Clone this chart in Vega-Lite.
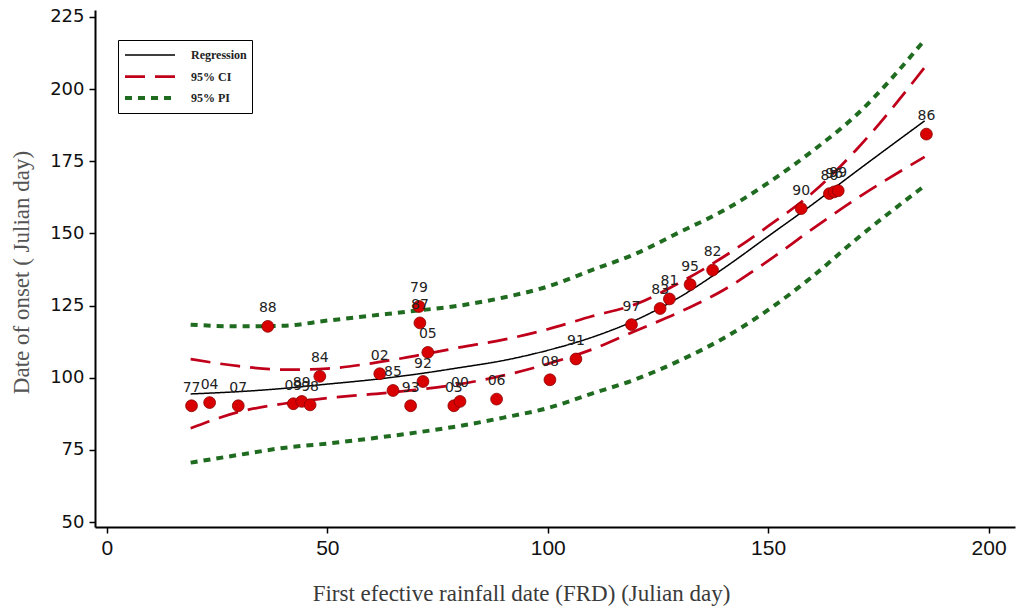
{
  "$schema": "https://vega.github.io/schema/vega-lite/v6.json",
  "width": 920,
  "height": 517,
  "autosize": "none",
  "padding": {"left": 95, "top": 10, "right": 9, "bottom": 81},
  "background": "white",
  "config": {
    "view": {"stroke": null},
    "axis": {"grid": false, "domainColor": "#000", "domainWidth": 2, "tickColor": "#000", "tickWidth": 1.5, "tickSize": 6, "labelColor": "#111", "titleColor": "#3a3a3a", "titleFont": "Liberation Serif", "titleFontWeight": "normal", "titleFontSize": 23}
  },
  "datasets": {
    "pts": [
      {"x": 19.2, "y": 90.3, "yr": "77"},
      {"x": 23.3, "y": 91.4, "yr": "04"},
      {"x": 29.8, "y": 90.3, "yr": "07"},
      {"x": 36.5, "y": 117.8, "yr": "88"},
      {"x": 42.3, "y": 91.0, "yr": "09"},
      {"x": 44.2, "y": 91.8, "yr": "89"},
      {"x": 46.1, "y": 90.6, "yr": "98"},
      {"x": 48.3, "y": 100.5, "yr": "84"},
      {"x": 61.9, "y": 101.4, "yr": "02"},
      {"x": 64.9, "y": 95.6, "yr": "85"},
      {"x": 68.9, "y": 90.3, "yr": "93"},
      {"x": 70.8, "y": 124.7, "yr": "79"},
      {"x": 71.0, "y": 119.0, "yr": "87"},
      {"x": 71.7, "y": 98.7, "yr": "92"},
      {"x": 72.8, "y": 108.8, "yr": "05"},
      {"x": 78.7, "y": 90.3, "yr": "03"},
      {"x": 80.1, "y": 91.8, "yr": "00"},
      {"x": 88.4, "y": 92.6, "yr": "06"},
      {"x": 100.5, "y": 99.3, "yr": "08"},
      {"x": 106.4, "y": 106.5, "yr": "91"},
      {"x": 119.0, "y": 118.4, "yr": "97"},
      {"x": 125.5, "y": 124.0, "yr": "83"},
      {"x": 127.6, "y": 127.3, "yr": "81"},
      {"x": 132.3, "y": 132.3, "yr": "95"},
      {"x": 137.4, "y": 137.3, "yr": "82"},
      {"x": 157.5, "y": 158.6, "yr": "90"},
      {"x": 163.9, "y": 163.8, "yr": "80"},
      {"x": 165.0, "y": 164.4, "yr": "96"},
      {"x": 165.9, "y": 164.8, "yr": "99"},
      {"x": 185.9, "y": 184.4, "yr": "86"}
    ],
    "lines": [
      {"x": 19, "y": 94.4, "series": "Regression", "part": "r"},
      {"x": 30, "y": 95.2, "series": "Regression", "part": "r"},
      {"x": 40, "y": 96.3, "series": "Regression", "part": "r"},
      {"x": 50, "y": 97.8, "series": "Regression", "part": "r"},
      {"x": 60, "y": 99.3, "series": "Regression", "part": "r"},
      {"x": 70, "y": 101.2, "series": "Regression", "part": "r"},
      {"x": 80, "y": 103.5, "series": "Regression", "part": "r"},
      {"x": 90, "y": 106.0, "series": "Regression", "part": "r"},
      {"x": 100, "y": 109.5, "series": "Regression", "part": "r"},
      {"x": 110, "y": 114.0, "series": "Regression", "part": "r"},
      {"x": 120, "y": 120.0, "series": "Regression", "part": "r"},
      {"x": 130, "y": 128.0, "series": "Regression", "part": "r"},
      {"x": 140, "y": 138.0, "series": "Regression", "part": "r"},
      {"x": 150, "y": 149.0, "series": "Regression", "part": "r"},
      {"x": 160, "y": 160.0, "series": "Regression", "part": "r"},
      {"x": 170, "y": 171.5, "series": "Regression", "part": "r"},
      {"x": 185.5, "y": 189.0, "series": "Regression", "part": "r"},

      {"x": 19, "y": 106.5, "series": "95% CI", "part": "cu"},
      {"x": 30, "y": 104.0, "series": "95% CI", "part": "cu"},
      {"x": 40, "y": 102.8, "series": "95% CI", "part": "cu"},
      {"x": 50, "y": 103.2, "series": "95% CI", "part": "cu"},
      {"x": 60, "y": 105.0, "series": "95% CI", "part": "cu"},
      {"x": 70, "y": 107.6, "series": "95% CI", "part": "cu"},
      {"x": 80, "y": 110.5, "series": "95% CI", "part": "cu"},
      {"x": 90, "y": 113.2, "series": "95% CI", "part": "cu"},
      {"x": 100, "y": 116.8, "series": "95% CI", "part": "cu"},
      {"x": 110, "y": 121.3, "series": "95% CI", "part": "cu"},
      {"x": 120, "y": 125.5, "series": "95% CI", "part": "cu"},
      {"x": 130, "y": 133.0, "series": "95% CI", "part": "cu"},
      {"x": 140, "y": 142.0, "series": "95% CI", "part": "cu"},
      {"x": 150, "y": 152.5, "series": "95% CI", "part": "cu"},
      {"x": 160, "y": 164.0, "series": "95% CI", "part": "cu"},
      {"x": 170, "y": 179.0, "series": "95% CI", "part": "cu"},
      {"x": 185.5, "y": 207.5, "series": "95% CI", "part": "cu"},

      {"x": 19, "y": 82.5, "series": "95% CI", "part": "cl"},
      {"x": 30, "y": 88.2, "series": "95% CI", "part": "cl"},
      {"x": 40, "y": 91.0, "series": "95% CI", "part": "cl"},
      {"x": 50, "y": 93.0, "series": "95% CI", "part": "cl"},
      {"x": 60, "y": 94.3, "series": "95% CI", "part": "cl"},
      {"x": 70, "y": 95.8, "series": "95% CI", "part": "cl"},
      {"x": 80, "y": 97.8, "series": "95% CI", "part": "cl"},
      {"x": 90, "y": 100.8, "series": "95% CI", "part": "cl"},
      {"x": 100, "y": 104.8, "series": "95% CI", "part": "cl"},
      {"x": 110, "y": 109.8, "series": "95% CI", "part": "cl"},
      {"x": 120, "y": 116.3, "series": "95% CI", "part": "cl"},
      {"x": 130, "y": 122.8, "series": "95% CI", "part": "cl"},
      {"x": 140, "y": 130.5, "series": "95% CI", "part": "cl"},
      {"x": 150, "y": 140.5, "series": "95% CI", "part": "cl"},
      {"x": 160, "y": 151.5, "series": "95% CI", "part": "cl"},
      {"x": 170, "y": 162.0, "series": "95% CI", "part": "cl"},
      {"x": 185.5, "y": 176.5, "series": "95% CI", "part": "cl"},

      {"x": 19, "y": 118.4, "series": "95% PI", "part": "pu"},
      {"x": 30, "y": 117.8, "series": "95% PI", "part": "pu"},
      {"x": 40, "y": 118.0, "series": "95% PI", "part": "pu"},
      {"x": 50, "y": 119.8, "series": "95% PI", "part": "pu"},
      {"x": 60, "y": 121.5, "series": "95% PI", "part": "pu"},
      {"x": 70, "y": 123.2, "series": "95% PI", "part": "pu"},
      {"x": 80, "y": 125.0, "series": "95% PI", "part": "pu"},
      {"x": 90, "y": 127.8, "series": "95% PI", "part": "pu"},
      {"x": 100, "y": 131.6, "series": "95% PI", "part": "pu"},
      {"x": 110, "y": 137.3, "series": "95% PI", "part": "pu"},
      {"x": 120, "y": 143.0, "series": "95% PI", "part": "pu"},
      {"x": 130, "y": 150.5, "series": "95% PI", "part": "pu"},
      {"x": 140, "y": 158.0, "series": "95% PI", "part": "pu"},
      {"x": 150, "y": 167.5, "series": "95% PI", "part": "pu"},
      {"x": 160, "y": 178.5, "series": "95% PI", "part": "pu"},
      {"x": 170, "y": 191.0, "series": "95% PI", "part": "pu"},
      {"x": 185.5, "y": 217.0, "series": "95% PI", "part": "pu"},

      {"x": 19, "y": 70.6, "series": "95% PI", "part": "pl"},
      {"x": 30, "y": 73.3, "series": "95% PI", "part": "pl"},
      {"x": 40, "y": 75.7, "series": "95% PI", "part": "pl"},
      {"x": 50, "y": 77.2, "series": "95% PI", "part": "pl"},
      {"x": 60, "y": 79.0, "series": "95% PI", "part": "pl"},
      {"x": 70, "y": 81.0, "series": "95% PI", "part": "pl"},
      {"x": 80, "y": 83.3, "series": "95% PI", "part": "pl"},
      {"x": 90, "y": 86.2, "series": "95% PI", "part": "pl"},
      {"x": 100, "y": 89.5, "series": "95% PI", "part": "pl"},
      {"x": 110, "y": 94.5, "series": "95% PI", "part": "pl"},
      {"x": 120, "y": 99.5, "series": "95% PI", "part": "pl"},
      {"x": 130, "y": 106.0, "series": "95% PI", "part": "pl"},
      {"x": 140, "y": 113.8, "series": "95% PI", "part": "pl"},
      {"x": 150, "y": 123.5, "series": "95% PI", "part": "pl"},
      {"x": 160, "y": 135.0, "series": "95% PI", "part": "pl"},
      {"x": 170, "y": 148.0, "series": "95% PI", "part": "pl"},
      {"x": 185.5, "y": 166.5, "series": "95% PI", "part": "pl"}
    ]
  },
  "layer": [
    {
      "data": {"name": "lines"},
      "mark": {"type": "line", "interpolate": "monotone"},
      "encoding": {
        "x": {
          "field": "x", "type": "quantitative",
          "scale": {"domain": [-2.7, 206], "nice": false, "zero": false},
          "axis": {
            "values": [0, 50, 100, 150, 200],
            "title": "First efective rainfall date (FRD)  (Julian day)",
            "labelFont": "Liberation Sans", "labelFontSize": 21, "labelPadding": 4,
            "titleX": 426, "titleY": 73, "titleBaseline": "alphabetic", "titleAnchor": "middle"
          }
        },
        "y": {
          "field": "y", "type": "quantitative",
          "scale": {"domain": [48.3, 227.4], "nice": false, "zero": false},
          "axis": {
            "values": [50, 75, 100, 125, 150, 175, 200, 225],
            "title": "Date of onset  ( Julian day)",
            "labelFont": "DejaVu Sans", "labelFontSize": 18, "labelPadding": 5,
            "titleX": -74, "titleY": 262, "titleAngle": 270, "titleBaseline": "middle", "titleAlign": "center", "titleColor": "#555"
          }
        },
        "detail": {"field": "part"},
        "color": {
          "field": "series", "type": "nominal",
          "scale": {"domain": ["Regression", "95% CI", "95% PI"], "range": ["#000000", "#c0001a", "#1f6b1f"]},
          "legend": {
            "title": null, "orient": "none", "legendX": 23, "legendY": 30,
            "strokeColor": "#000", "fillColor": "#fff", "padding": 5,
            "symbolType": "stroke", "symbolSize": 2500, "clipHeight": 20, "rowPadding": 1.5,
            "labelFont": "Liberation Serif", "labelFontSize": 12, "labelFontWeight": "bold", "labelColor": "#222", "labelOffset": 14
          }
        },
        "strokeDash": {
          "field": "series", "type": "nominal",
          "scale": {"domain": ["Regression", "95% CI", "95% PI"], "range": [[1, 0], [20, 10], [7, 6]]},
          "legend": {
            "title": null, "orient": "none", "legendX": 23, "legendY": 30,
            "strokeColor": "#000", "fillColor": "#fff", "padding": 5,
            "symbolType": "stroke", "symbolSize": 2500, "clipHeight": 20, "rowPadding": 1.5,
            "labelFont": "Liberation Serif", "labelFontSize": 12, "labelFontWeight": "bold", "labelColor": "#222", "labelOffset": 14
          }
        },
        "strokeWidth": {
          "field": "series", "type": "nominal",
          "scale": {"domain": ["Regression", "95% CI", "95% PI"], "range": [1.5, 4, 3.5]},
          "legend": {
            "title": null, "orient": "none", "legendX": 23, "legendY": 30,
            "strokeColor": "#000", "fillColor": "#fff", "padding": 5,
            "symbolType": "stroke", "symbolSize": 2500, "clipHeight": 20, "rowPadding": 1.5,
            "labelFont": "Liberation Serif", "labelFontSize": 12, "labelFontWeight": "bold", "labelColor": "#222", "labelOffset": 14
          }
        }
      }
    },
    {
      "data": {"name": "pts"},
      "mark": {"type": "circle", "size": 140, "color": "#d80000", "opacity": 1, "stroke": "#8a0000", "strokeWidth": 0.8},
      "encoding": {
        "x": {"field": "x", "type": "quantitative"},
        "y": {"field": "y", "type": "quantitative"}
      }
    },
    {
      "data": {"name": "pts"},
      "mark": {"type": "text", "dy": -18, "font": "DejaVu Sans", "fontSize": 14, "color": "#222", "baseline": "middle"},
      "encoding": {
        "x": {"field": "x", "type": "quantitative"},
        "y": {"field": "y", "type": "quantitative"},
        "text": {"field": "yr"}
      }
    }
  ]
}
